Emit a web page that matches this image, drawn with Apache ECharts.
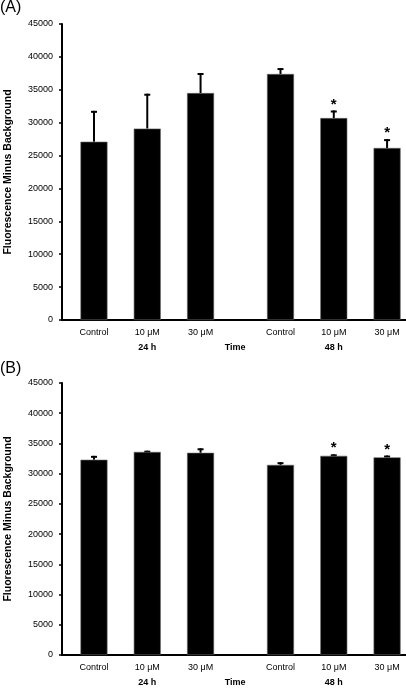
<!DOCTYPE html>
<html><head><meta charset="utf-8">
<script src="https://cdn.jsdelivr.net/npm/echarts@6/dist/echarts.min.js"></script>
<style>html,body{margin:0;padding:0;background:#fff}#c{width:406px;height:689px}</style>
</head><body><div id="c"></div>
<script>
// ---- data ----
var categories = ['Control', '10 μM', '30 μM', 'Control', '10 μM', '30 μM'];
var xPos = [0, 1, 2, 3.5, 4.5, 5.5];
var groupLabels = ['24 h', 'Time', '48 h'];
var groupPos = [1, 2.65, 4.5];
var yTicks = [0, 5000, 10000, 15000, 20000, 25000, 30000, 35000, 40000, 45000];

var meanA = [27100, 29100, 34500, 37400, 30700, 26150];
var errTopA = [31800, 34400, 37550, 38300, 31850, 27500];
var sigA = [0, 0, 0, 0, 1, 1];

var meanB = [32300, 33600, 33450, 31450, 32950, 32700];
var errTopB = [32950, 33800, 34200, 31900, 33200, 33000];
var sigB = [0, 0, 0, 0, 1, 1];

var FONT = 'Liberation Sans, Arial, Helvetica, sans-serif';
var chart = echarts.init(document.getElementById('c'), null, {renderer: 'canvas'});

function catLabel(v) {
  for (var i = 0; i < xPos.length; i++) if (Math.abs(xPos[i] - v) < 1e-6) return categories[i];
  return '';
}
function grpLabel(v) {
  for (var i = 0; i < groupPos.length; i++) if (Math.abs(groupPos[i] - v) < 1e-6) return groupLabels[i];
  return '';
}

var grids = [
  {left: 62, top: 24, width: 344, height: 296, containLabel: false, outerBoundsMode: 'none'},
  {left: 62, top: 383, width: 344, height: 272, containLabel: false, outerBoundsMode: 'none'}
];

var xAxes = [], yAxes = [], series = [];
[[meanA, errTopA, sigA], [meanB, errTopB, sigB]].forEach(function (d, gi) {
  xAxes.push({
    type: 'value', gridIndex: gi, min: -0.6, max: 5.855, position: 'bottom',
    axisLine: {show: true, onZero: false, lineStyle: {color: '#000', width: 2}},
    axisTick: {show: false}, splitLine: {show: false},
    axisLabel: {customValues: xPos, formatter: catLabel, color: '#000', fontSize: 9, fontFamily: FONT, margin: 8}
  });
  xAxes.push({
    type: 'value', gridIndex: gi, min: -0.6, max: 5.855, position: 'bottom', offset: 17,
    axisLine: {show: false, onZero: false}, axisTick: {show: false}, splitLine: {show: false},
    axisLabel: {customValues: groupPos, formatter: grpLabel, color: '#000', fontSize: 9, fontWeight: 'bold', fontFamily: FONT, margin: 6}
  });
  yAxes.push({
    type: 'value', gridIndex: gi, min: 0, max: 45000, interval: 5000, position: 'left',
    name: 'Fluorescence Minus Background', nameLocation: 'middle', nameGap: 48,
    nameTextStyle: {color: '#000', fontSize: 10.5, fontWeight: 'bold', fontFamily: FONT},
    axisLine: {show: true, onZero: false, lineStyle: {color: '#000', width: 2}},
    axisTick: {show: true, length: 3, lineStyle: {color: '#000', width: 1.5}},
    splitLine: {show: false},
    axisLabel: {color: '#000', fontSize: 9, fontFamily: FONT, margin: 9,
      formatter: function (v) { return String(v); }}
  });
  var mean = d[0], errTop = d[1], sig = d[2];
  series.push({
    type: 'bar', xAxisIndex: gi * 2, yAxisIndex: gi, barWidth: 27,
    itemStyle: {color: '#000', borderColor: '#666', borderWidth: 0.6},
    data: xPos.map(function (x, i) { return [x, mean[i]]; }),
    silent: true, animation: false
  });
  series.push({
    type: 'custom', xAxisIndex: gi * 2, yAxisIndex: gi, animation: false, silent: true,
    encode: {x: 0, y: 2},
    data: xPos.map(function (x, i) { return [x, mean[i], errTop[i], sig[i]]; }),
    renderItem: function (params, api) {
      var base = api.coord([api.value(0), api.value(1)]);
      var top = api.coord([api.value(0), api.value(2)]);
      var children = [
        {type: 'rect', shape: {x: top[0] - 1, y: top[1], width: 2, height: base[1] - top[1]}, style: {fill: '#000'}},
        {type: 'rect', shape: {x: top[0] - 3, y: top[1], width: 6, height: 2}, style: {fill: '#000'}}
      ];
      if (api.value(3)) {
        children.push({type: 'text', x: top[0], y: top[1] - 6,
          style: {text: '*', fill: '#000', font: 'bold 15px ' + FONT, align: 'center', verticalAlign: 'middle'}});
      }
      return {type: 'group', children: children};
    }
  });
});

chart.setOption({
  animation: false,
  backgroundColor: '#fff',
  grid: grids,
  xAxis: xAxes,
  yAxis: yAxes,
  series: series,
  graphic: [
    {type: 'text', left: 0, top: 0, style: {text: '(A)', font: '16px ' + FONT, fill: '#000'}},
    {type: 'text', left: 0, top: 361, style: {text: '(B)', font: '16px ' + FONT, fill: '#000'}}
  ]
});
</script></body></html>
